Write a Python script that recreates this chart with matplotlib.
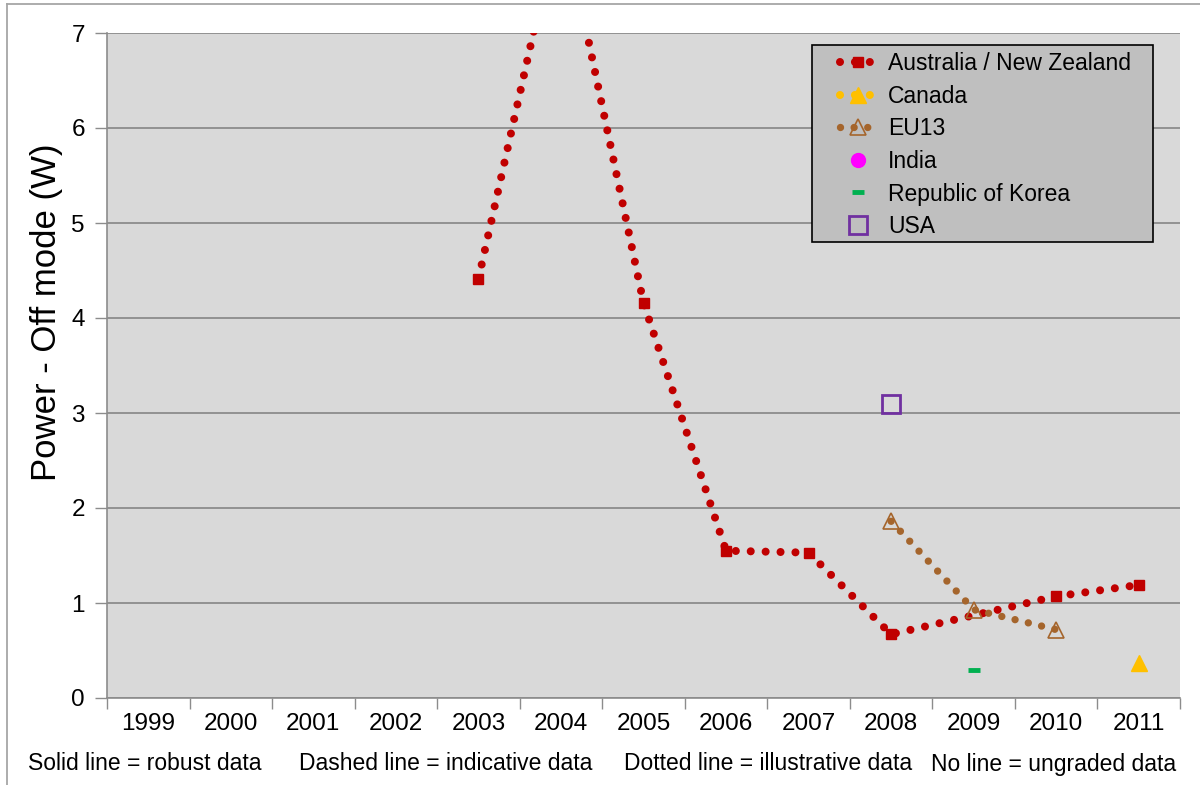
import matplotlib
matplotlib.use('Agg')
import matplotlib.pyplot as plt
from matplotlib.patches import Rectangle
from matplotlib.lines import Line2D

plt.rcParams['font.family'] = ['Liberation Sans', 'DejaVu Sans']

years = ['1999', '2000', '2001', '2002', '2003', '2004', '2005',
         '2006', '2007', '2008', '2009', '2010', '2011']

aus_years = ['2003', '2004', '2005', '2006', '2007', '2008', '2010', '2011']
aus_power = [4.41, 8.3, 4.16, 1.55, 1.53, 0.67, 1.07, 1.19]

can_years = ['2011']
can_power = [0.37]

eu_years = ['2008', '2009', '2010']
eu_power = [1.86, 0.93, 0.72]

india_years = []
india_power = []

korea_years = ['2009']
korea_power = [0.3]

usa_years = ['2008']
usa_power = [3.1]

notes = ['Solid line = robust data', 'Dashed line = indicative data',
         'Dotted line = illustrative data', 'No line = ungraded data']
note_x = [145, 446, 768, 1054]

RED = '#C00000'
BROWN = '#A5652C'
GRID = '#8C8C8C'
DOTS = (0, (0.001, 1.85))


def pos(ys):
    return [years.index(y) for y in ys]


fig = plt.figure(figsize=(12, 7.85), dpi=100)
ax = fig.add_axes([107 / 1200, 1 - 698 / 785, 1073 / 1200, 665 / 785])
ax.set_facecolor('#D9D9D9')

ax.plot(pos(aus_years), aus_power, color=RED, lw=5.8, linestyle=DOTS,
        dash_capstyle='round', marker='s', ms=7, mec=RED, mfc=RED,
        label='Australia / New Zealand', zorder=3)
ax.plot(pos(can_years), can_power, color='#FFC000', lw=5.8, linestyle=DOTS,
        dash_capstyle='round', marker='^', ms=12, mec='#FFC000', mfc='#FFC000',
        label='Canada', zorder=3)
ax.plot(pos(eu_years), eu_power, color=BROWN, lw=5.3, linestyle=DOTS,
        dash_capstyle='round', marker='^', ms=12, mec=BROWN, mfc='none',
        mew=1.2, label='EU13', zorder=3)
ax.plot(pos(india_years), india_power, linestyle='none', marker='o', ms=10,
        color='#FF00FF', label='India', zorder=3)
ax.plot(pos(korea_years), korea_power, linestyle='none', marker='_', ms=8,
        mew=3.5, color='#00B050', label='Republic of Korea', zorder=3)
ax.plot(pos(usa_years), usa_power, linestyle='none', marker='s', ms=12.5,
        mec='#7030A0', mfc='none', mew=2, label='USA', zorder=3)

ax.set_xlim(-0.5, len(years) - 0.5)
ax.set_ylim(0, 7)

# category boundaries carry the tick marks, labels sit at the centres
ax.set_xticks([i - 0.5 for i in range(len(years) + 1)])
ax.set_xticklabels([])
ax.set_xticks(range(len(years)), minor=True)
ax.set_xticklabels(years, minor=True, fontsize=17.5)
ax.tick_params(axis='x', which='major', direction='out', length=8,
               color=GRID, width=1)
ax.tick_params(axis='x', which='minor', length=0, pad=11)

ax.set_yticks(range(8))
ax.tick_params(axis='y', direction='out', length=9, color=GRID, width=1,
               labelsize=17.5, pad=7)
ax.grid(axis='y', color=GRID, lw=1.3)
ax.set_axisbelow(True)

for side in ['top', 'right']:
    ax.spines[side].set_visible(False)
for side in ['left', 'bottom']:
    ax.spines[side].set_color(GRID)
    ax.spines[side].set_linewidth(1.2)

ax.set_ylabel('Power - Off mode (W)', fontsize=25)
ax.yaxis.set_label_coords(-0.041, 0.58)

# legend box
ax.add_patch(Rectangle((812 / 1200, 1 - 242 / 785), 341 / 1200, 197 / 785,
                       transform=fig.transFigure, facecolor='#BFBFBF',
                       edgecolor='black', lw=1.2, clip_on=False, zorder=4))
ax.legend(loc='upper left', bbox_to_anchor=(840 / 1200, 1 - 52 / 785),
          bbox_transform=fig.transFigure, frameon=False, borderpad=0,
          borderaxespad=0, fontsize=16.5, handlelength=1.55,
          handletextpad=0.55, labelspacing=0.42, numpoints=1)
ax.get_legend().set_zorder(5)

for txt, x in zip(notes, note_x):
    fig.text(x / 1200, 1 - 764 / 785, txt, ha='center', va='center',
             fontsize=16.5)

# chart border
fig.add_artist(Line2D([7 / 1200, 7 / 1200], [0, 1 - 4 / 785],
                      transform=fig.transFigure, color='#A6A6A6', lw=1.3))
fig.add_artist(Line2D([7 / 1200, 1], [1 - 4 / 785, 1 - 4 / 785],
                      transform=fig.transFigure, color='#A6A6A6', lw=1.3))

fig.savefig('out.png', dpi=100)
